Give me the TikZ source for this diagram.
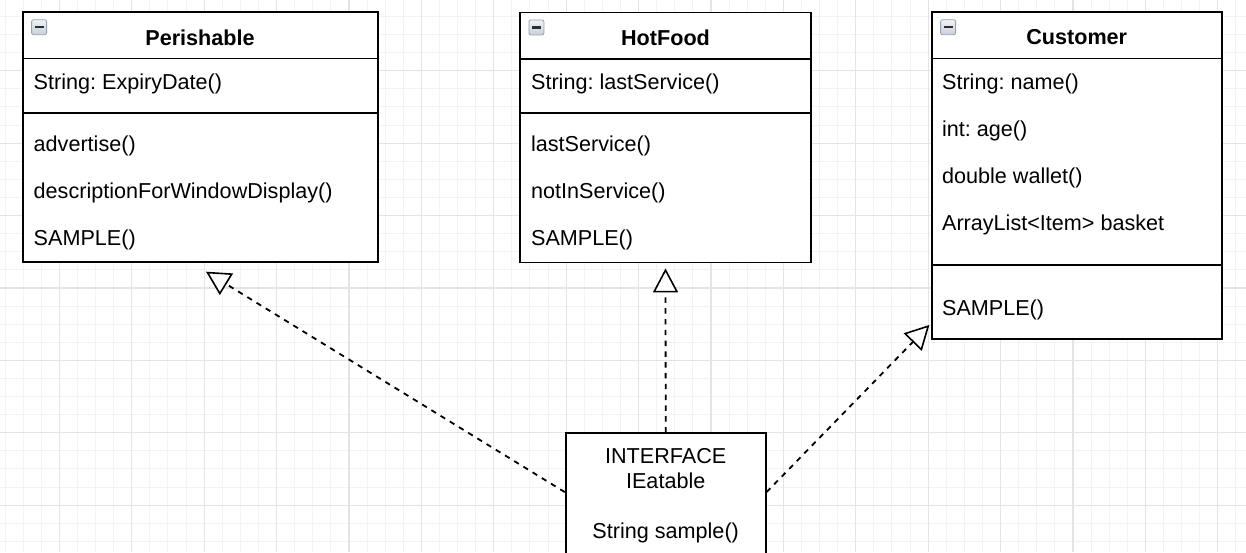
\documentclass[tikz,border=0pt]{standalone}
\usepackage{fontspec}
\setmainfont{Liberation Sans}
\usetikzlibrary{arrows.meta,calc}
\frenchspacing

\definecolor{gridminor}{HTML}{F3F3F3}
\definecolor{gridmajor}{HTML}{E4E4E4}
\definecolor{iconfill}{HTML}{C9D0DA}
\definecolor{icontop}{HTML}{F0F2F5}
\definecolor{iconline}{HTML}{97A2B0}

\tikzset{
  classbox/.style={draw, line width=0.9pt, fill=white, inner sep=0pt},
  classname/.style={font=\fontsize{10.8}{13}\selectfont\bfseries, inner sep=0pt},
  member/.style={font=\fontsize{10.8}{13}\selectfont, anchor=west, inner sep=0pt},
  plaintext/.style={font=\fontsize{10.8}{13}\selectfont, inner sep=0pt},
  sepline/.style={line width=0.9pt},
  realize/.style={line width=0.9pt, dash pattern=on 2.7pt off 2.7pt,
    -{Triangle[fill=white,length=12pt,width=12.5pt,line width=0.8pt]}},
  minusicon/.style={draw=iconline, line width=0.4pt, rounded corners=1pt,
    minimum size=7.5pt, inner sep=0pt, top color=icontop, bottom color=iconfill,
    path picture={\draw[line width=1.1pt, gray!35!black]
      ([xshift=-2.3pt]path picture bounding box.center) --
      ([xshift=2.3pt]path picture bounding box.center);}}
}

\begin{document}
\begin{tikzpicture}[x=0.5pt,y=-0.5pt]
        \clip (0,0) rectangle (1246,552);

        % draw the background grid
        \foreach \i in {0,...,68}
                \draw[gridminor, line width=0.5pt] ({5+18.1*\i},0) -- ({5+18.1*\i},552);
        \foreach \j in {0,...,29}
                \draw[gridminor, line width=0.5pt] (0,{16.4+18.1*\j}) -- (1246,{16.4+18.1*\j});
        \foreach \i in {3,7,...,67}
                \draw[gridmajor, line width=0.6pt] ({5+18.1*\i},0) -- ({5+18.1*\i},552);
        \foreach \j in {3,7,...,27}
                \draw[gridmajor, line width=0.6pt] (0,{16.4+18.1*\j}) -- (1246,{16.4+18.1*\j});

        % draw the class boxes
        \node[classbox, minimum width=177.5pt, minimum height=125pt] (per) at (200.2,137.3) {};
        \node[classbox, minimum width=145.5pt, minimum height=125pt] (hot) at (665.5,137.5) {};
        \node[classbox, minimum width=145pt, minimum height=163.4pt] (cust) at (1076.7,175.7) {};
        \node[classbox, minimum width=100pt, minimum height=62pt] (ieat) at (665.7,495.3) {};

        % compartment lines
        \foreach \b/\d in {per/23.5, per/50.7, hot/23.5, hot/50.7, cust/23.5, cust/126.9}
                \draw[sepline] ([yshift=-\d pt]\b.north west) -- ([yshift=-\d pt]\b.north east);

        % collapse icons
        \foreach \b in {per,hot,cust}
                \node[minusicon] (\b-icon) at ([xshift=8.65pt,yshift=-7.9pt]\b.north west) {};

        % class names
        \node[classname] (per-name) at (200,37.5) {Perishable};
        \node[classname] (hot-name) at (665.5,37.5) {HotFood};
        \node[classname] (cust-name) at (1076.7,37.5) {Customer};

        % members of Perishable
        \node[member] (per-a1) at (33.3,84) {String: ExpiryDate()};
        \foreach \m [count=\i] in {advertise(), descriptionForWindowDisplay(), SAMPLE()}
                \node[member] (per-m\i) at (33.3,{98.7+47*\i}) {\m};

        % members of HotFood
        \node[member] (hot-a1) at (530.7,84) {String: lastService()};
        \foreach \m [count=\i] in {lastService(), notInService(), SAMPLE()}
                \node[member] (hot-m\i) at (530.7,{98.7+47*\i}) {\m};

        % members of Customer
        \foreach \m [count=\i] in {String: name(), int: age(), double wallet(), ArrayList<Item> basket}
                \node[member] (cust-a\i) at (941.7,{37+47*\i}) {\m};
        \node[member] (cust-m1) at (941.7,310) {SAMPLE()};

        % the interface
        \node[plaintext] (ieat-kind) at (665.7,455.7) {INTERFACE};
        \node[plaintext] (ieat-name) at (665.7,481) {IEatable};
        \node[plaintext] (ieat-op) at (665.7,532.7) {String sample()};

        % realization arrows
        \draw[realize, shorten >=8.1pt] ([yshift=1.6pt]ieat.west) -- ([xshift=-4pt]per.south);
        \draw[realize, shorten >=2.5pt] (ieat.north) -- (hot.south);
        \draw[realize, shorten >=1pt] ([yshift=1.6pt]ieat.east) -- ([yshift=8.25pt]cust.south west);

\end{tikzpicture}
\end{document}
